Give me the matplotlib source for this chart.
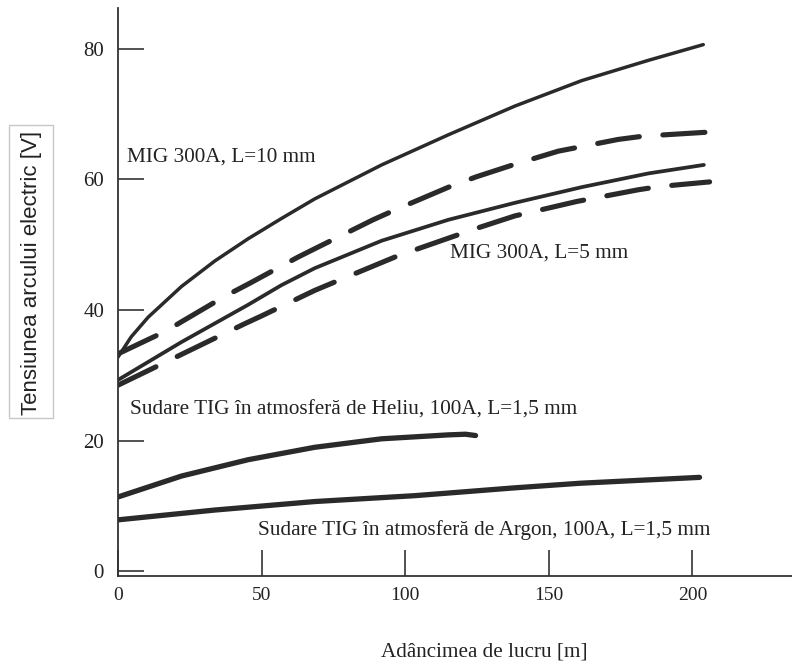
import matplotlib.pyplot as plt
from matplotlib.patches import Rectangle

plt.rcParams['font.family'] = ['Liberation Serif', 'DejaVu Serif']

# curves: depth [m] -> arc voltage [V]
mig10_x = [0, 4.6, 10.5, 22.1, 33.7, 45.3, 56.9, 68.5, 91.8, 115, 138.2, 161.5, 184.7, 203.8]
mig10_y = [32.8, 35.9, 38.9, 43.6, 47.5, 50.9, 54.0, 57.0, 62.2, 66.8, 71.2, 75.1, 78.2, 80.6]

mig10d_x = [0, 16.3, 22.1, 37.2, 45.9, 62.7, 70.9, 88.8, 96.4, 116.2, 124.9,
            138.2, 153.3, 174.2, 182.9, 205]
mig10d_y = [33.3, 36.7, 38.2, 42.1, 44.1, 48.1, 49.9, 53.8, 55.3, 59.0, 60.4,
            62.3, 64.3, 66.1, 66.6, 67.2]

mig5_x = [0, 22.1, 45.3, 56.9, 68.5, 91.8, 115, 138.2, 161.5, 184.7, 204]
mig5_y = [29.3, 35.1, 40.8, 43.8, 46.4, 50.6, 53.8, 56.4, 58.8, 60.9, 62.2]

mig5d_x = [0, 16.9, 24.4, 44.1, 50, 68.5, 76.1, 96.4, 104, 124.9, 138.2, 159.7,
           181.2, 188.7, 206]
mig5d_y = [28.5, 32.1, 33.7, 37.9, 39.1, 43.0, 44.4, 48.1, 49.3, 52.5, 54.4,
           56.6, 58.4, 58.9, 59.6]

heliu_x = [0, 22.1, 45.3, 68.5, 91.8, 115, 121, 124.5]
heliu_y = [11.4, 14.6, 17.1, 19.0, 20.3, 20.9, 21.0, 20.8]

argon_x = [0, 33.7, 68.5, 103.4, 138.2, 160.9, 202.5]
argon_y = [7.9, 9.4, 10.7, 11.6, 12.8, 13.5, 14.4]

x_ticks = [0, 50, 100, 150, 200]
y_ticks = [0, 20, 40, 60, 80]

labels = ['MIG 300A, L=10 mm', 'MIG 300A, L=5 mm',
          'Sudare TIG în atmosferă de Heliu, 100A, L=1,5 mm',
          'Sudare TIG în atmosferă de Argon, 100A, L=1,5 mm']
label_pos = [(3, 63.4), (115.6, 48.7), (4.1, 24.7), (48.7, 6.3)]

ink = '#2a2a2a'
fig = plt.figure(figsize=(7.92, 6.69), dpi=100)
ax = fig.add_axes([0.149, 0.1395, 0.851, 0.8485])

ax.plot(mig10_x, mig10_y, color=ink, lw=2.5, solid_capstyle='round',
        solid_joinstyle='round')
ax.plot(mig5_x, mig5_y, color=ink, lw=2.7, solid_capstyle='round',
        solid_joinstyle='round')
for xs, ys in [(mig10d_x, mig10d_y), (mig5d_x, mig5d_y)]:
    ax.plot(xs, ys, color=ink, lw=3.7, dashes=(8.2, 4.6),
            dash_capstyle='round', dash_joinstyle='round')
ax.plot(heliu_x, heliu_y, color=ink, lw=3.8, solid_capstyle='round',
        solid_joinstyle='round')
ax.plot(argon_x, argon_y, color=ink, lw=3.8, solid_capstyle='round',
        solid_joinstyle='round')

for txt, (tx, ty) in zip(labels, label_pos):
    ax.text(tx, ty, txt, fontsize=15.3, color='#222222', va='center', ha='left')

ax.set_xlim(0, 234.7)
ax.set_ylim(-0.64, 86.2)
ax.set_xticks(x_ticks)
ax.set_yticks(y_ticks)
ax.tick_params(direction='in', length=19, width=1.2, colors='#333333',
               labelcolor='#222222')
ax.tick_params(axis='y', pad=10, labelsize=15)
ax.tick_params(axis='x', pad=8, labelsize=14)
for s in ['top', 'right']:
    ax.spines[s].set_visible(False)
for s in ['left', 'bottom']:
    ax.spines[s].set_linewidth(1.3)
    ax.spines[s].set_color('#333333')

# x label sits right of centre in the original
fig.text(484 / 792, 1 - 652 / 669, 'Adâncimea de lucru [m]', fontsize=15.2,
         ha='center', va='center', color='#222222')

# y label in a thin grey box
fig.patches.append(Rectangle((9 / 792, 1 - 418 / 669), 44 / 792, 293 / 669,
                             transform=fig.transFigure, fill=False,
                             edgecolor='#c8c8c8', lw=1))
fig.text(32 / 792, 1 - 273 / 669, 'Tensiunea arcului electric [V]',
         family='Liberation Sans', fontsize=16, rotation=90,
         ha='center', va='center', color='#222222')

fig.savefig('out.png', dpi=100)
